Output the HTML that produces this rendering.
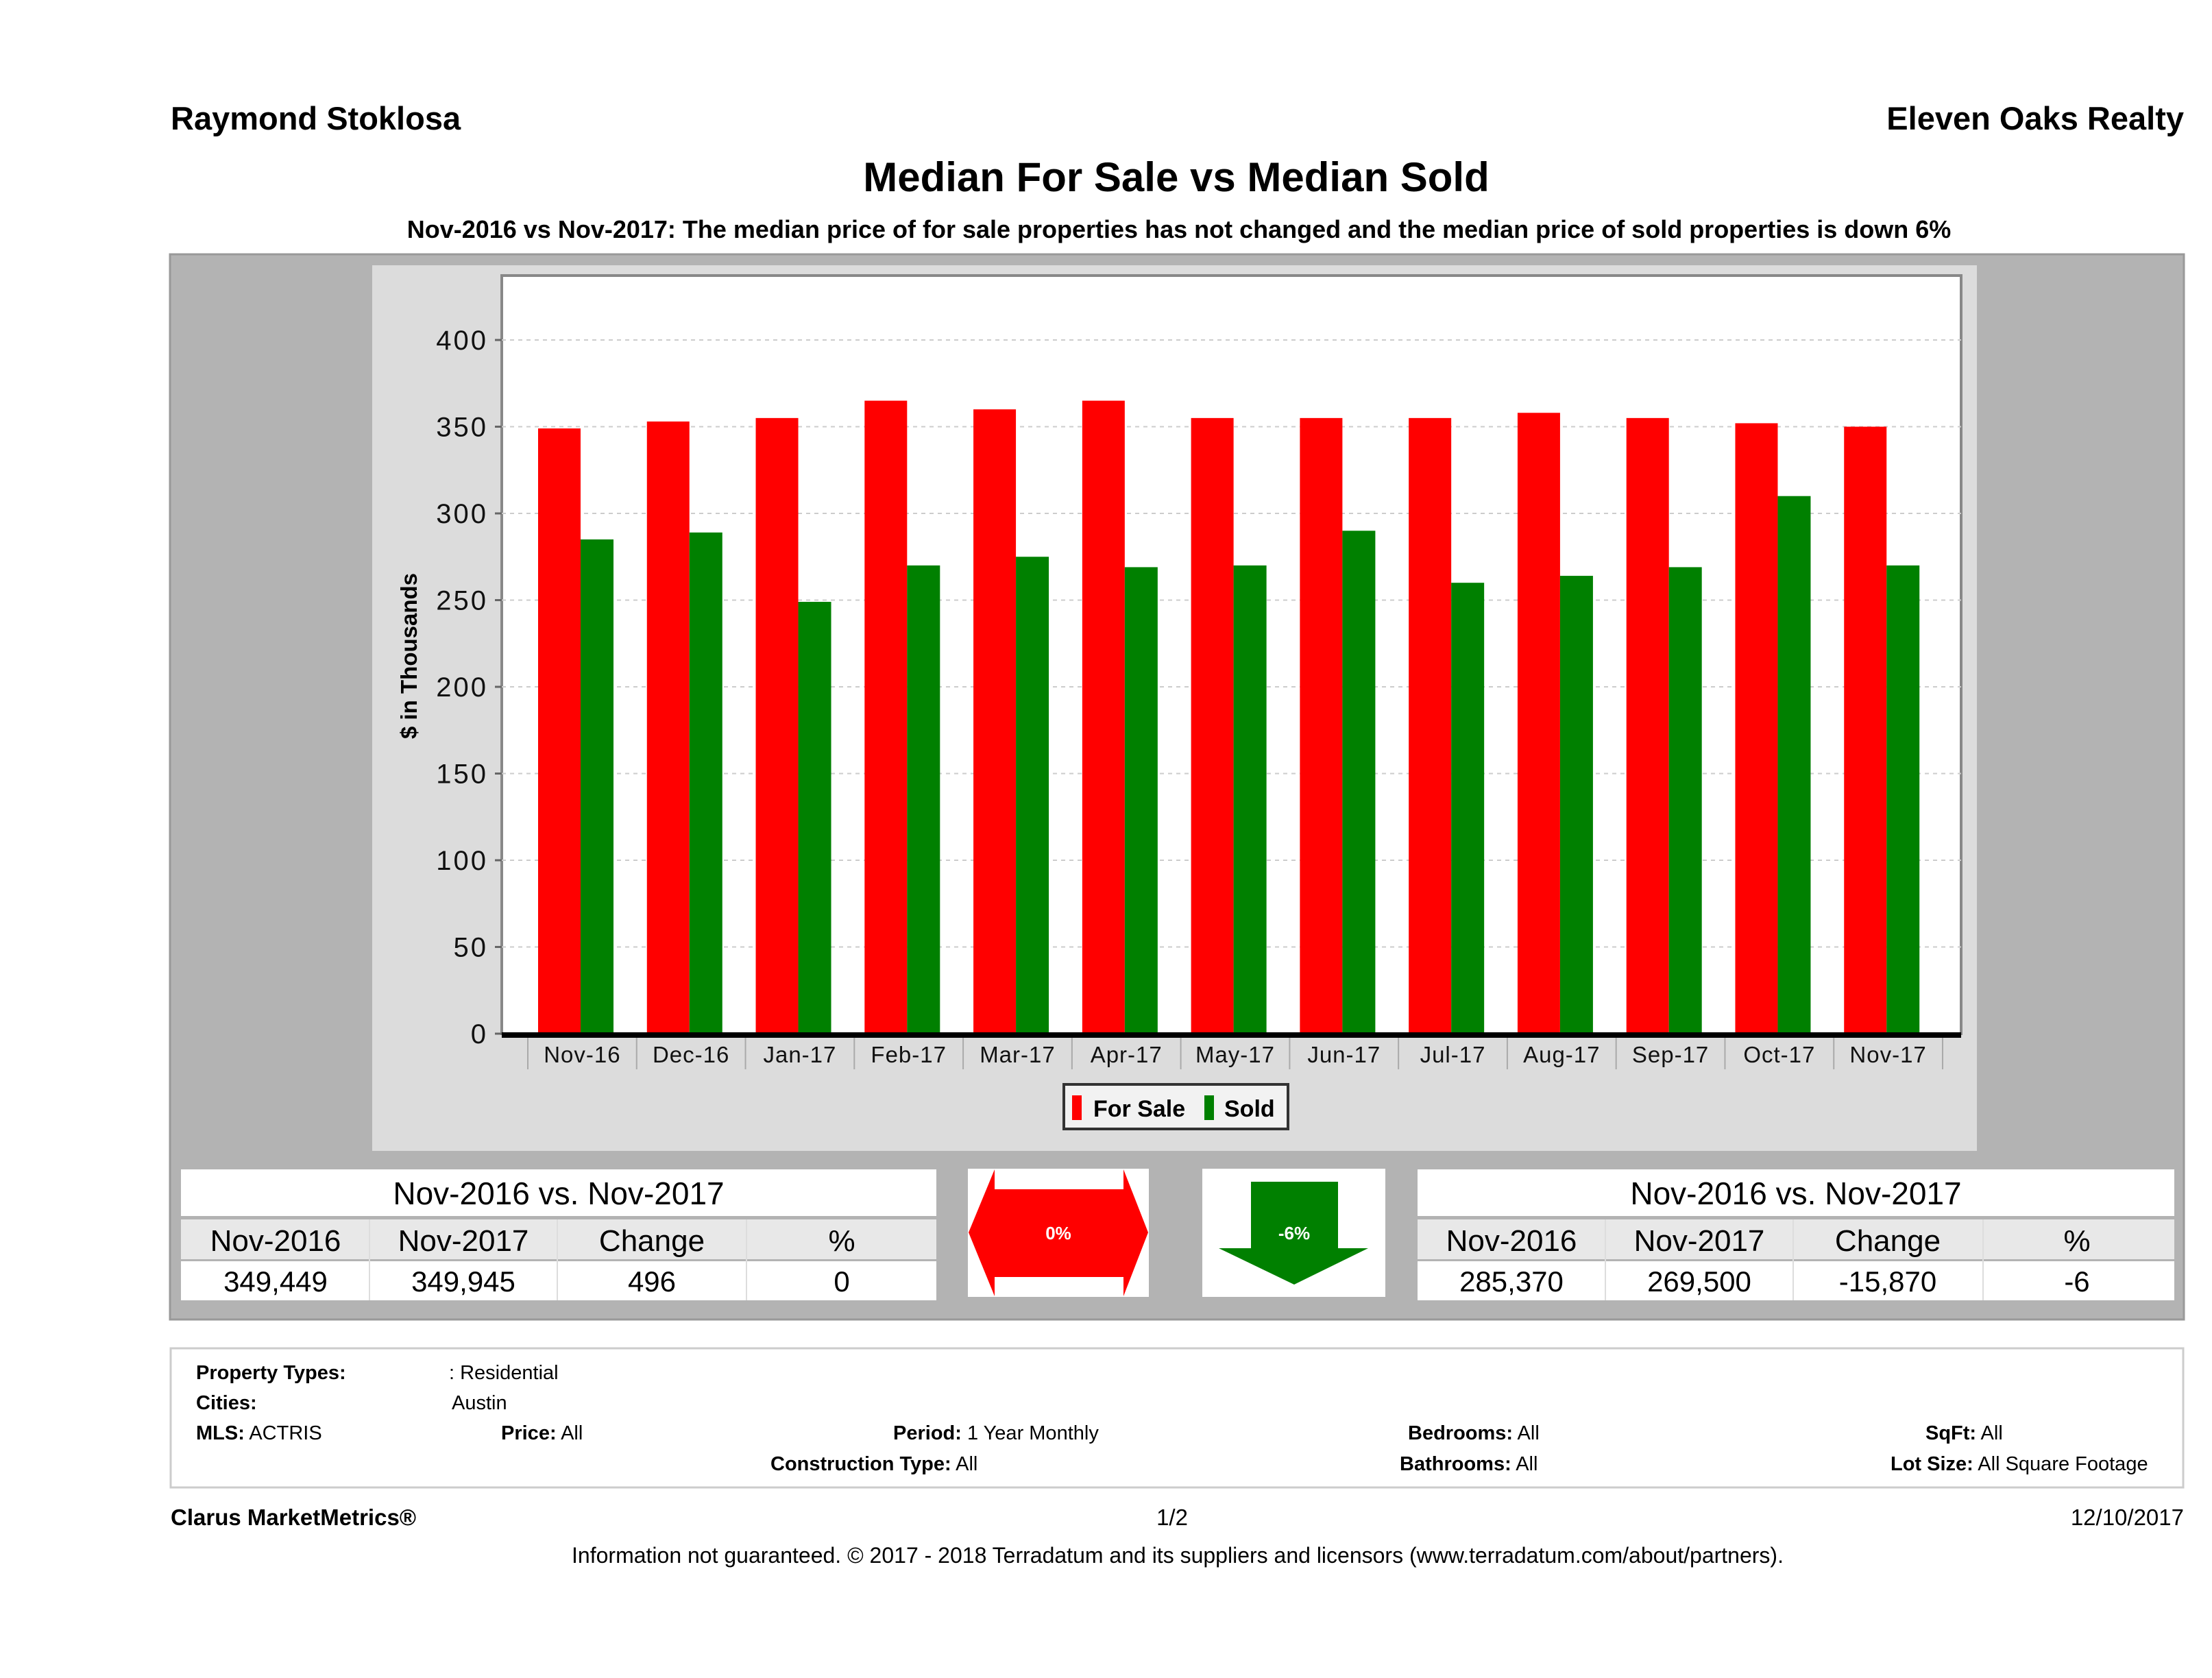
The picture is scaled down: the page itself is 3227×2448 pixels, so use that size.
<!DOCTYPE html>
<html><head><meta charset="utf-8"><style>
html,body{margin:0;padding:0;background:#fff;}
svg{display:block;font-family:"Liberation Sans",sans-serif;}
</style></head><body>
<svg id="root" width="3227" height="2448" viewBox="0 0 3227 2448" xmlns="http://www.w3.org/2000/svg">
<text x="249" y="189" font-size="47" font-weight="bold">Raymond Stoklosa</text>
<text x="3186" y="189" font-size="47" font-weight="bold" text-anchor="end">Eleven Oaks Realty</text>
<text x="1716" y="279" font-size="60" font-weight="bold" text-anchor="middle">Median For Sale vs Median Sold</text>
<text x="1720" y="347" font-size="36" font-weight="bold" text-anchor="middle">Nov-2016 vs Nov-2017: The median price of for sale properties has not changed and the median price of sold properties is down 6%</text>

<rect x="248" y="371" width="2938" height="1554" fill="#b3b3b3" stroke="#999" stroke-width="3"/>
<rect x="543" y="387" width="2341" height="1292" fill="#dcdcdc"/>
<rect x="732" y="402" width="2129" height="1106" fill="#fff" stroke="#888" stroke-width="4"/>
<g id="grid"></g>
<g id="bars"></g>
<g id="axes"></g>
<text transform="translate(608,957) rotate(-90)" font-size="33" font-weight="bold" text-anchor="middle">$ in Thousands</text>

<g>
<rect x="1552" y="1582" width="327" height="65" fill="#f2f2f2" stroke="#333" stroke-width="4"/>
<rect x="1564" y="1598" width="14" height="36" fill="#f00"/>
<text x="1595" y="1629" font-size="34" font-weight="bold">For Sale</text>
<rect x="1757" y="1598" width="14" height="36" fill="#008000"/>
<text x="1786" y="1629" font-size="34" font-weight="bold">Sold</text>
</g>

<g>
<rect x="264" y="1706" width="1102" height="68" fill="#fff"/>
<rect x="264" y="1779" width="1102" height="58" fill="#e8e8e8"/>
<rect x="264" y="1840" width="1102" height="57" fill="#fff"/>
<text x="815" y="1757" font-size="46" text-anchor="middle">Nov-2016 vs. Nov-2017</text>
<text x="402" y="1825" font-size="44" text-anchor="middle">Nov-2016</text>
<text x="676" y="1825" font-size="44" text-anchor="middle">Nov-2017</text>
<text x="951" y="1825" font-size="44" text-anchor="middle">Change</text>
<text x="1228" y="1825" font-size="44" text-anchor="middle">%</text>
<text x="402" y="1884" font-size="42" text-anchor="middle">349,449</text>
<text x="676" y="1884" font-size="42" text-anchor="middle">349,945</text>
<text x="951" y="1884" font-size="42" text-anchor="middle">496</text>
<text x="1228" y="1884" font-size="42" text-anchor="middle">0</text>
<line x1="539" y1="1779" x2="539" y2="1897" stroke="#ddd" stroke-width="2"/>
<line x1="813" y1="1779" x2="813" y2="1897" stroke="#ddd" stroke-width="2"/>
<line x1="1089" y1="1779" x2="1089" y2="1897" stroke="#ddd" stroke-width="2"/>
</g>

<g>
<rect x="1412" y="1705" width="264" height="187" fill="#fff"/>
<polygon points="1413,1798 1451,1706 1451,1735 1639,1735 1639,1706 1675,1798 1639,1891 1639,1863 1451,1863 1451,1891" fill="#f00"/>
<text x="1544" y="1808" font-size="26" font-weight="bold" fill="#fff" text-anchor="middle">0%</text>
</g>
<g>
<rect x="1754" y="1705" width="267" height="187" fill="#fff"/>
<polygon points="1825,1724 1952,1724 1952,1821 1996,1821 1888,1874 1778,1821 1825,1821" fill="#008000"/>
<text x="1888" y="1808" font-size="26" font-weight="bold" fill="#fff" text-anchor="middle">-6%</text>
</g>

<g>
<rect x="2068" y="1706" width="1104" height="68" fill="#fff"/>
<rect x="2068" y="1779" width="1104" height="58" fill="#e8e8e8"/>
<rect x="2068" y="1840" width="1104" height="57" fill="#fff"/>
<text x="2620" y="1757" font-size="46" text-anchor="middle">Nov-2016 vs. Nov-2017</text>
<text x="2205" y="1825" font-size="44" text-anchor="middle">Nov-2016</text>
<text x="2479" y="1825" font-size="44" text-anchor="middle">Nov-2017</text>
<text x="2754" y="1825" font-size="44" text-anchor="middle">Change</text>
<text x="3030" y="1825" font-size="44" text-anchor="middle">%</text>
<text x="2205" y="1884" font-size="42" text-anchor="middle">285,370</text>
<text x="2479" y="1884" font-size="42" text-anchor="middle">269,500</text>
<text x="2754" y="1884" font-size="42" text-anchor="middle">-15,870</text>
<text x="3030" y="1884" font-size="42" text-anchor="middle">-6</text>
<line x1="2342" y1="1779" x2="2342" y2="1897" stroke="#ddd" stroke-width="2"/>
<line x1="2616" y1="1779" x2="2616" y2="1897" stroke="#ddd" stroke-width="2"/>
<line x1="2893" y1="1779" x2="2893" y2="1897" stroke="#ddd" stroke-width="2"/>
</g>

<g font-size="29">
<rect x="249" y="1967" width="2936" height="203" fill="#fff" stroke="#ccc" stroke-width="3"/>
<text x="286" y="2012" font-weight="bold">Property Types:</text><text x="655" y="2012">: Residential</text>
<text x="286" y="2056" font-weight="bold">Cities:</text><text x="659" y="2056">Austin</text>
<text x="286" y="2100"><tspan font-weight="bold">MLS:</tspan>   ACTRIS</text>
<text x="731" y="2100"><tspan font-weight="bold">Price:</tspan> All</text>
<text x="1303" y="2100"><tspan font-weight="bold">Period:</tspan> 1 Year Monthly</text>
<text x="2054" y="2100"><tspan font-weight="bold">Bedrooms:</tspan> All</text>
<text x="2809" y="2100"><tspan font-weight="bold">SqFt:</tspan>  All</text>
<text x="1124" y="2145"><tspan font-weight="bold">Construction Type:</tspan> All</text>
<text x="2042" y="2145"><tspan font-weight="bold">Bathrooms:</tspan> All</text>
<text x="2758" y="2145"><tspan font-weight="bold">Lot Size:</tspan>  All Square Footage</text>
</g>
<text x="249" y="2225" font-size="33" font-weight="bold">Clarus MarketMetrics®</text>
<text x="1710" y="2225" font-size="33" text-anchor="middle">1/2</text>
<text x="3186" y="2225" font-size="33" text-anchor="end">12/10/2017</text>
<text x="1718" y="2280" font-size="32" text-anchor="middle">Information not guaranteed. © 2017 - 2018 Terradatum and its suppliers and licensors (www.terradatum.com/about/partners).</text>
</svg>
<script>
const categories = ["Nov-16","Dec-16","Jan-17","Feb-17","Mar-17","Apr-17","May-17","Jun-17","Jul-17","Aug-17","Sep-17","Oct-17","Nov-17"];
const forSale = [349,353,355,365,360,365,355,355,355,358,355,352,350];
const sold = [285,289,249,270,275,269,270,290,260,264,269,310,270];
const yTicks = [0,50,100,150,200,250,300,350,400];
const NS = "http://www.w3.org/2000/svg";
const plotL = 732, plotR = 2861, y0 = 1508, yTop400 = 496;
const catL = 770, catW = (2834 - 770) / categories.length;
function yScale(v){ return y0 - v * (y0 - yTop400) / 400; }
function xCat(i){ return catL + i * catW; }
function mk(tag, attrs, parent){ const e = document.createElementNS(NS, tag); for (const k in attrs) e.setAttribute(k, attrs[k]); parent.appendChild(e); return e; }
const grid = document.getElementById('grid'), bars = document.getElementById('bars'), axes = document.getElementById('axes');
yTicks.forEach(t => {
  const y = yScale(t);
  if (t > 0) {
    const g = mk('line', {x1: plotL, x2: plotR, y1: y, y2: y, stroke: '#ccc', 'stroke-width': 2, 'stroke-dasharray': '6,6'}, grid);
    
    
  }
  const tk = mk('line', {x1: plotL - 10, x2: plotL, y1: y, y2: y, stroke: '#666', 'stroke-width': 3}, axes);
  
  
  const lb = mk('text', {x: 712, y: y + 14, 'font-size': 40, 'text-anchor': 'end', 'letter-spacing': '3', fill: '#111'}, axes);
  lb.textContent = t;
  
  
});
categories.forEach((c, i) => {
  const x = xCat(i);
  const r = mk('rect', {x: x + 15, y: yScale(forSale[i]), width: 62, height: y0 - yScale(forSale[i]), fill: '#ff0000'}, bars);
  
  
  const g = mk('rect', {x: x + 77, y: yScale(sold[i]), width: 48, height: y0 - yScale(sold[i]), fill: '#008000'}, bars);
  
  
  const lb = mk('text', {x: x + catW / 2, y: 1550, 'font-size': 33, 'text-anchor': 'middle', 'letter-spacing': '1', fill: '#111'}, axes);
  lb.textContent = c;
  
  
  const sp = mk('line', {x1: x, x2: x, y1: 1512, y2: 1560, stroke: '#aaa', 'stroke-width': 2}, axes);
  
  
});
const last = mk('line', {x1: xCat(categories.length), x2: xCat(categories.length), y1: 1512, y2: 1560, stroke: '#aaa', 'stroke-width': 2}, axes);


const ax = mk('line', {x1: plotL, x2: plotR, y1: y0 + 2, y2: y0 + 2, stroke: '#000', 'stroke-width': 8}, axes);


</script>
</body></html>
